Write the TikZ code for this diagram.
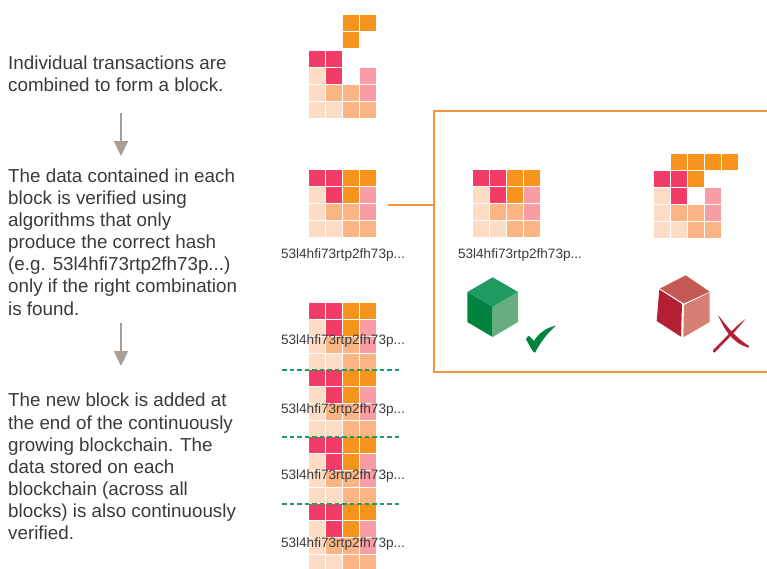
\documentclass[tikz,border=0pt]{standalone}
\usepackage{fontspec}
\setmainfont{Liberation Sans}
\usetikzlibrary{arrows.meta}
\definecolor{cellred}{HTML}{F23C68}
\definecolor{cellorange}{HTML}{F7941E}
\definecolor{celllight}{HTML}{FDDCC5}
\definecolor{celltan}{HTML}{FBB584}
\definecolor{cellpink}{HTML}{F99DA5}
\definecolor{framecolor}{HTML}{F0963C}
\definecolor{flowcolor}{HTML}{A89E96}
\definecolor{chaingreen}{HTML}{1F9A60}
\definecolor{textgrey}{HTML}{3A3A3A}
\definecolor{badred}{HTML}{B41F35}
\definecolor{badtop}{HTML}{C55A55}
\definecolor{badside}{HTML}{D57F73}
\definecolor{goodgreen}{HTML}{00833F}
\definecolor{goodside}{HTML}{66AE82}
\tikzset{
  steptext/.style={anchor=west,align=left,inner sep=0pt,text=textgrey,
    font=\fontsize{18.8}{22.1}\selectfont},
  hashtext/.style={inner sep=0pt,text=textgrey,font=\fontsize{13.6}{14}\selectfont},
  flow/.style={draw=flowcolor,line width=2.3pt,-{Triangle[width=14pt,length=15pt]}},
  frameline/.style={draw=framecolor,line width=1.7pt},
  chainlink/.style={draw=chaingreen,line width=1.1pt,dash pattern=on 4.5pt off 3pt},
}
% one row of cells: x, y, colours from left to right
\newcommand{\cellrow}[3]{
  \foreach \c [count=\i from 0] in {#3}
    \fill[\c] ({#1+17*\i},{#2}) rectangle ++(16,16);
}
% the usual block of four rows
\newcommand{\fullblock}[2]{
  \cellrow{#1}{#2}{cellred,cellred,cellorange,cellorange}
  \cellrow{#1}{#2+17}{celllight,cellred,cellorange,cellpink}
  \cellrow{#1}{#2+34}{celllight,celltan,celltan,cellpink}
  \cellrow{#1}{#2+51}{celllight,celllight,celltan,celltan}
}
\begin{document}
\begin{tikzpicture}[x=1pt,y=-1pt]
  \useasboundingbox (0,0) rectangle (767,568);
  \clip (0,0) rectangle (767,568);

  % left column
  \node[steptext] (combine) at (8,74) {Individual transactions are\\combined to form a block.};
  \node[steptext] (verify) at (8,242) {The data contained in each\\block is verified using\\algorithms that only\\produce the correct hash\\(e.g. 53l4hfi73rtp2fh73p...)\\only if the right combination\\is found.};
  \node[steptext] (append) at (8,466.5) {The new block is added at\\the end of the continuously\\growing blockchain. The\\data stored on each\\blockchain (across all\\blocks) is also continuously\\verified.};
  \coordinate (flowAtop) at (121,113);
  \coordinate (flowAend) at (121,156);
  \coordinate (flowBtop) at (121,323);
  \coordinate (flowBend) at (121,366);
  \draw[flow] (flowAtop) -- (flowAend);
  \draw[flow] (flowBtop) -- (flowBend);

  % single transactions and new block
  \cellrow{343}{15}{cellorange,cellorange}
  \cellrow{343}{32}{cellorange}
  \cellrow{309}{51}{cellred,cellred}
  \cellrow{309}{68}{celllight,cellred}
  \fill[cellpink] (360,68) rectangle ++(16,16);
  \cellrow{309}{85}{celllight,celltan,celltan,cellpink}
  \cellrow{309}{102}{celllight,celllight,celltan,celltan}

  % verified block
  \fullblock{309}{170}
  \node[hashtext] (hashblock) at (343,254.5) {53l4hfi73rtp2fh73p...};

  % frame
  \coordinate (linkstart) at (388,205);
  \coordinate (linkend) at (434,205);
  \draw[frameline] (linkstart) -- (linkend);
  \draw[frameline] (770,111) -- (434,111) -- (434,372) -- (770,372);

  % good block
  \fullblock{473}{170}
  \node[hashtext] (hashgood) at (520,254.5) {53l4hfi73rtp2fh73p...};
  \fill[chaingreen] (492.7,277.3) -- (518,292) -- (492.7,307) -- (467.3,292) -- cycle;
  \fill[goodgreen] (467.3,292) -- (492.7,307) -- (492.7,337) -- (467.3,322) -- cycle;
  \fill[goodside] (492.7,307) -- (518,292) -- (518,322) -- (492.7,337) -- cycle;
  \fill[goodgreen] (526,339.3) .. controls (526.5,337) and (528,336) .. (529.3,336)
    -- (534,341) .. controls (538,334) and (546,327.5) .. (556,325.7)
    .. controls (548,332) and (540,343) .. (535,352.7)
    .. controls (532.5,352.5) and (530,346) .. (526,339.3) -- cycle;

  % bad block
  \cellrow{671}{154}{cellorange,cellorange,cellorange,cellorange}
  \cellrow{654}{171}{cellred,cellred,cellorange}
  \cellrow{654}{188}{celllight,cellred}
  \fill[cellpink] (705,188) rectangle ++(16,16);
  \cellrow{654}{205}{celllight,celltan,celltan,cellpink}
  \cellrow{654}{222}{celllight,celllight,celltan,celltan}
  \fill[badtop] (685.7,275.3) -- (709.7,291.7) -- (683.8,303.5) -- (660,288.5) -- cycle;
  \fill[badred] (659.3,289.5) -- (682,304) -- (681,336.7) -- (656.7,321) -- cycle;
  \fill[badside] (684,305) -- (709.7,292.5) -- (709.7,322) -- (683.3,337.3) -- cycle;
  \fill[badred] (718,315) .. controls (724,322) and (732,335) .. (749,346)
    .. controls (749.5,347) and (749,348) .. (748,347.5)
    .. controls (732,343) and (724,329) .. (718,315) -- cycle;
  \fill[badred] (745.5,319) .. controls (735,332) and (724,343) .. (714.5,352.5)
    .. controls (713,352.5) and (712.5,351) .. (713,350)
    .. controls (722,342) and (733,328) .. (745.5,319) -- cycle;

  % chain
  \foreach \y in {303,370,437,504} {
    \fullblock{309}{\y}
  }
  \foreach \y in {370,437,504}
    \draw[chainlink] (282,\y) -- (402,\y);
  \node[hashtext] (hashA) at (343,341) {53l4hfi73rtp2fh73p...};
  \node[hashtext] (hashB) at (343,410) {53l4hfi73rtp2fh73p...};
  \node[hashtext] (hashC) at (343,476) {53l4hfi73rtp2fh73p...};
  \node[hashtext] (hashD) at (343,544) {53l4hfi73rtp2fh73p...};
\end{tikzpicture}
\end{document}
